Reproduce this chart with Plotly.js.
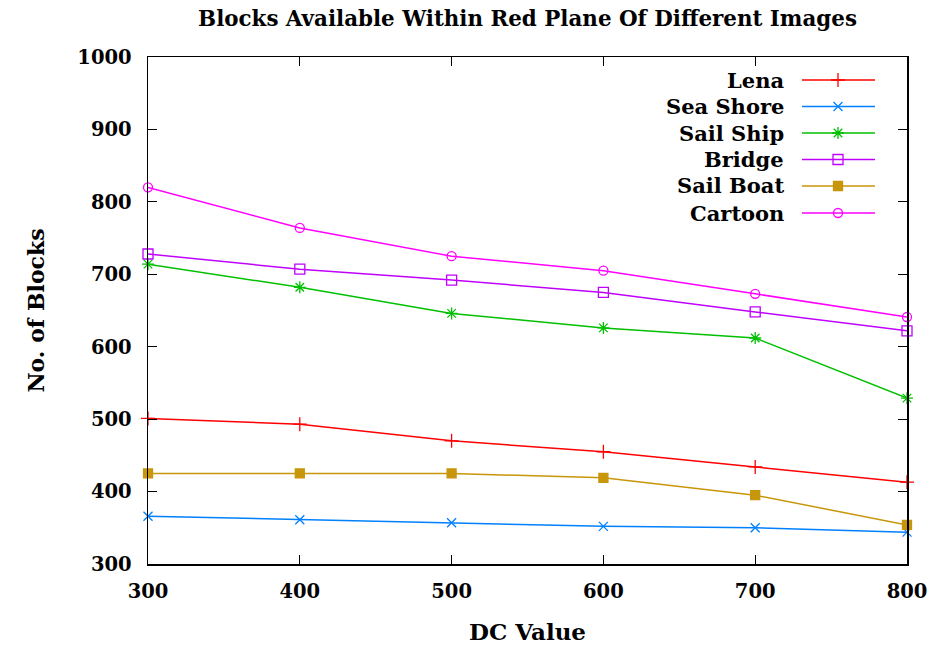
<!DOCTYPE html>
<html><head><meta charset="utf-8">
<script src="https://cdn.plot.ly/plotly-3.0.1.min.js"></script>
<style>html,body{margin:0;padding:0;background:#fff;}#chart{width:933px;height:648px;}</style>
</head><body><div id="chart"></div>
<script>
const dcValues = [300, 400, 500, 600, 700, 800];
const seriesNames = ["Lena", "Sea Shore", "Sail Ship", "Bridge", "Sail Boat", "Cartoon"];
const lena = [501, 493, 470, 455, 434, 413];
const seaShore = [366, 361, 357, 352, 350, 344];
const sailShip = [714, 682, 646, 626, 612, 529];
const bridge = [728, 707, 692, 675, 648, 622];
const sailBoat = [425, 425, 425, 419, 395, 354];
const cartoon = [820, 764, 725, 705, 673, 641];
const xTicks = [300, 400, 500, 600, 700, 800];
const yTicks = [300, 400, 500, 600, 700, 800, 900, 1000];

const values = [lena, seaShore, sailShip, bridge, sailBoat, cartoon];
const colors = ["#ff0000", "#0080ff", "#00c000", "#c000ff", "#c8960a", "#ff00ff"];
const symbols = ["cross-thin-open", "x-thin-open", "asterisk-open", "square-open", "square", "circle-open"];
const msizes = [10, 9, 10, 10, 9, 9];
const FONT = "DejaVu Serif";

const traces = [];
values.forEach((v, i) => {
  traces.push({
    x: dcValues, y: v, name: seriesNames[i], type: "scatter", mode: "lines+markers",
    line: {color: colors[i], width: 1.5},
    marker: {symbol: symbols[i], size: msizes[i], color: colors[i], line: {color: colors[i], width: 1.3}},
    showlegend: false, cliponaxis: false
  });
});

const P = (px) => (px - 148) / 759;
const Q = (py) => (564 - py) / 507;
const rowsY = [80, 106.5, 133, 159.5, 186, 213];
const annotations = [];
seriesNames.forEach((n, i) => {
  traces.push({
    x: [P(802), P(875)], y: [Q(rowsY[i]), Q(rowsY[i])], xaxis: "x2", yaxis: "y2",
    type: "scatter", mode: "lines", line: {color: colors[i], width: 1.5},
    showlegend: false, hoverinfo: "skip"
  });
  traces.push({
    x: [P(838)], y: [Q(rowsY[i])], xaxis: "x2", yaxis: "y2",
    type: "scatter", mode: "markers",
    marker: {symbol: symbols[i], size: msizes[i], color: colors[i], line: {color: colors[i], width: 1.3}},
    showlegend: false, hoverinfo: "skip"
  });
  annotations.push({
    x: P(786), y: Q(rowsY[i]), xref: "paper", yref: "paper", xanchor: "right", yanchor: "middle",
    text: n, showarrow: false, font: {family: FONT, size: 21, color: "#000", weight: "bold"}
  });
});

const axisCommon = {
  showgrid: false, zeroline: false, showline: true, linecolor: "#000", linewidth: 1.5,
  mirror: "ticks", ticks: "inside", ticklen: 9, tickwidth: 1.2, tickcolor: "#000",
  tickfont: {family: FONT, size: 19.5, color: "#000", weight: "bold"}
};

const layout = {
  width: 933, height: 648,
  margin: {l: 148, r: 26, t: 57, b: 84},
  paper_bgcolor: "#fff", plot_bgcolor: "#fff",
  title: {text: "Blocks Available Within Red Plane Of Different Images", x: 0.5, xanchor: "center",
          y: 0.972, yanchor: "middle", xref: "paper",
          font: {family: FONT, size: 21.4, color: "#000", weight: "bold"}},
  xaxis: Object.assign({}, axisCommon, {range: [300, 800], tickvals: xTicks, ticklabelstandoff: 9,
          title: {text: "DC Value", standoff: 22, font: {family: FONT, size: 23, color: "#000", weight: "bold"}}}),
  yaxis: Object.assign({}, axisCommon, {range: [300, 1000], tickvals: yTicks, ticklabelstandoff: 11,
          title: {text: "No. of Blocks", standoff: 26, font: {family: FONT, size: 22, color: "#000", weight: "bold"}}}),
  xaxis2: {overlaying: "x", range: [0, 1], visible: false, fixedrange: true},
  yaxis2: {overlaying: "y", range: [0, 1], visible: false, fixedrange: true},
  annotations: annotations,
  showlegend: false
};

Plotly.newPlot("chart", traces, layout, {displayModeBar: false, staticPlot: true});
</script></body></html>
